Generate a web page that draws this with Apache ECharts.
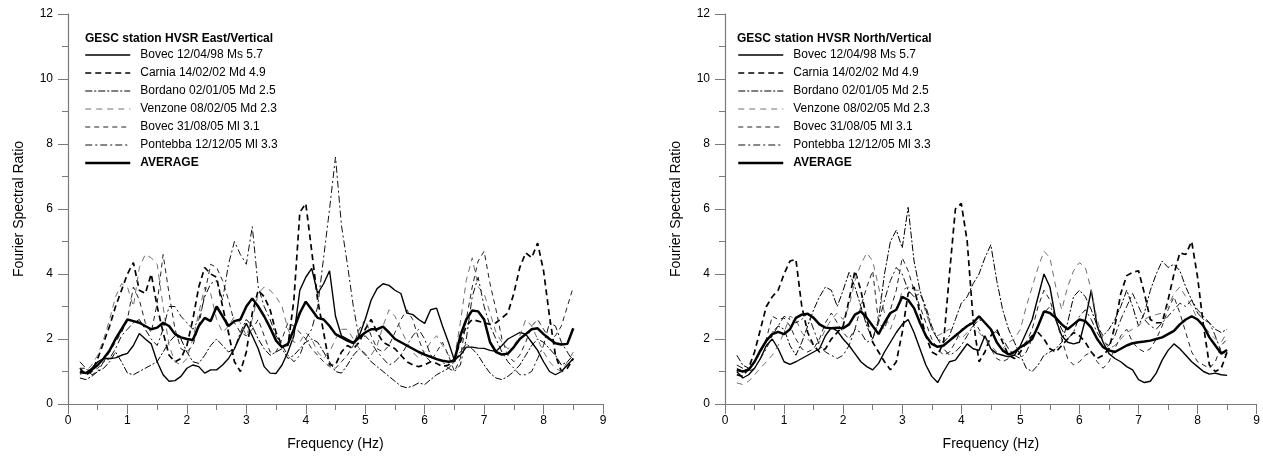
<!DOCTYPE html>
<html>
<head>
<meta charset="utf-8">
<script src="https://cdn.jsdelivr.net/npm/echarts@6/dist/echarts.min.js"></script>
<style>
html,body{margin:0;padding:0;background:#fff;}
#chart{width:1263px;height:460px;}
</style>
</head>
<body>
<div id="chart"></div>
<script>
// Frequencies (Hz)
const freqs = [0.2,0.3,0.4,0.5,0.6,0.7,0.8,0.9,1.0,1.1,
1.2,1.3,1.4,1.5,1.6,1.7,1.8,1.9,2.0,2.1,
2.2,2.3,2.4,2.5,2.6,2.7,2.8,2.9,3.0,3.1,
3.2,3.3,3.4,3.5,3.6,3.7,3.8,3.9,4.0,4.1,
4.2,4.3,4.4,4.5,4.6,4.7,4.8,4.9,5.0,5.1,
5.2,5.3,5.4,5.5,5.6,5.7,5.8,5.9,6.0,6.1,
6.2,6.3,6.4,6.5,6.6,6.7,6.8,6.9,7.0,7.1,
7.2,7.3,7.4,7.5,7.6,7.7,7.8,7.9,8.0,8.1,
8.2,8.3,8.4,8.5];

const seriesNames = ['Bovec 12/04/98 Ms 5.7','Carnia 14/02/02 Md 4.9','Bordano 02/01/05 Md 2.5','Venzone 08/02/05 Md 2.3','Bovec 31/08/05 Ml 3.1','Pontebba 12/12/05 Ml 3.3','AVERAGE'];
const panelTitles = ['GESC station HVSR East/Vertical','GESC station HVSR North/Vertical'];
const xTicks = [0,1,2,3,4,5,6,7,8,9];
const yTicks = [0,2,4,6,8,10,12];

// ---- East / Vertical ----
const E_bovec98 = [0.95,0.95,1.1,1.3,1.4,1.4,1.42,1.5,1.56,1.8,
2.17,2.0,1.85,1.3,0.9,0.7,0.72,0.85,1.1,1.2,
1.15,0.95,1.05,1.05,1.2,1.4,1.7,2.1,2.48,2.1,
1.7,1.15,0.95,0.94,1.2,1.6,2.1,3.5,3.9,4.17,
3.4,3.7,4.1,2.7,2.1,2.0,1.9,2.1,2.6,3.2,
3.55,3.7,3.65,3.5,3.4,2.8,2.75,2.6,2.48,2.9,
2.95,2.4,1.9,1.35,1.5,1.75,1.75,1.72,1.71,1.65,
1.62,1.8,2.0,2.1,2.2,2.15,1.9,1.65,1.3,1.0,
0.9,1.0,1.2,1.4];
const E_carnia = [1.1,0.9,1.0,1.4,1.9,2.4,3.0,3.5,4.0,4.35,
3.5,3.4,4.0,3.0,2.2,1.5,1.3,1.4,1.8,2.6,
3.6,4.2,4.0,3.9,3.0,2.2,1.3,1.0,1.6,2.8,
3.5,3.3,2.9,2.2,1.8,1.8,3.2,5.9,6.17,4.7,
3.2,2.2,1.2,1.2,1.6,1.8,1.7,1.9,2.3,2.6,
2.2,1.9,1.8,1.7,1.5,1.3,1.2,1.15,1.2,1.3,
1.25,1.15,1.2,1.4,1.9,2.4,2.6,2.55,2.5,2.45,
2.5,2.65,2.8,3.4,4.2,4.65,4.5,4.95,4.1,2.7,
1.5,1.0,1.1,1.4];
const E_bordano = [0.8,0.75,0.85,1.0,1.1,1.3,1.6,1.3,0.95,0.9,
1.0,1.1,1.2,1.3,1.6,1.9,2.1,2.0,1.6,1.3,
1.25,1.5,1.8,2.0,1.8,1.6,1.7,2.2,2.6,2.4,
2.0,1.7,1.5,1.6,1.7,1.4,1.5,1.7,1.9,2.0,
1.9,1.6,1.3,1.0,0.95,1.2,1.5,1.7,1.55,1.3,
1.15,1.0,0.85,0.7,0.55,0.5,0.55,0.65,0.6,0.75,
0.9,1.0,1.1,1.3,1.6,1.85,1.7,1.5,1.2,0.95,
0.8,0.75,0.85,1.0,1.2,1.5,1.8,2.0,1.9,1.7,
1.5,1.2,1.3,1.5];
const E_venzone = [0.9,1.0,1.2,1.5,2.0,2.6,3.3,3.7,3.6,3.0,
4.2,4.6,4.5,4.3,3.0,1.8,1.3,1.2,1.4,2.0,
2.8,3.6,3.4,2.6,2.2,2.4,2.7,2.5,2.1,2.6,
3.4,3.6,3.5,3.3,3.0,2.3,1.9,1.9,2.2,2.0,
1.6,1.4,1.6,2.0,2.3,2.3,2.0,1.7,1.5,1.5,
1.8,2.4,2.9,2.7,2.3,1.9,1.6,1.4,1.6,1.9,
2.1,1.8,1.5,1.4,2.5,3.8,4.5,3.6,3.4,2.8,
2.2,1.9,1.7,1.8,2.1,2.6,2.4,2.0,1.6,1.3,
1.1,1.0,1.3,1.6];
const E_bovec05 = [1.1,1.1,1.0,1.1,1.3,1.6,1.9,2.2,2.6,3.6,
3.2,2.5,2.2,3.1,4.6,3.4,2.3,1.7,1.6,1.8,
2.4,3.4,4.3,4.2,3.8,3.2,2.5,2.2,2.1,2.3,
2.6,2.1,1.6,1.6,2.0,2.5,2.4,2.2,2.0,1.7,
1.5,1.3,1.15,1.1,1.3,1.5,1.8,2.3,2.6,2.1,
1.7,1.6,1.8,2.2,2.6,2.9,2.6,2.0,1.5,1.3,
1.6,1.9,1.5,1.0,1.4,2.6,3.6,4.4,4.7,3.7,
2.9,2.0,1.5,1.3,1.5,1.9,2.4,2.6,2.3,2.0,
2.1,2.4,3.0,3.6];
const E_pontebba = [1.3,1.1,0.9,1.0,1.3,1.4,1.7,2.1,2.3,2.5,
2.6,2.3,2.0,1.8,2.3,3.0,3.0,2.7,2.5,2.3,
2.6,3.3,3.7,3.8,3.2,4.3,5.0,4.6,4.3,5.46,
3.6,3.0,2.6,2.1,1.8,1.5,1.3,1.5,2.0,2.3,
3.0,4.5,6.0,7.6,5.5,4.3,3.0,2.0,2.1,1.9,
1.6,1.4,1.2,1.3,1.5,1.8,2.1,2.3,2.0,1.5,
1.4,1.3,1.1,1.0,1.2,2.0,3.3,3.9,3.0,2.4,
2.0,1.6,1.3,1.1,0.9,0.9,1.0,1.4,1.8,2.5,
2.4,1.9,1.6,1.3];
const E_avg = [1.0,0.95,1.05,1.2,1.4,1.65,2.0,2.3,2.6,2.55,
2.5,2.4,2.3,2.35,2.5,2.4,2.15,2.05,2.0,1.97,
2.4,2.65,2.55,3.0,2.7,2.4,2.55,2.6,3.0,3.25,
3.0,2.7,2.35,1.95,1.75,1.85,2.3,2.8,3.15,2.9,
2.65,2.6,2.4,2.15,2.05,1.95,1.87,2.05,2.2,2.3,
2.3,2.38,2.2,2.0,1.9,1.8,1.7,1.6,1.52,1.45,
1.38,1.33,1.3,1.32,2.1,2.6,2.88,2.85,2.6,1.9,
1.6,1.52,1.55,1.75,2.0,2.15,2.3,2.33,2.15,2.0,
1.87,1.83,1.85,2.33];

// ---- North / Vertical ----
const N_bovec98 = [1.0,0.8,0.9,1.1,1.4,1.8,2.0,1.7,1.3,1.22,
1.3,1.4,1.5,1.6,1.7,2.1,2.35,2.25,2.0,1.8,
1.55,1.3,1.15,1.05,1.25,1.6,1.9,2.2,2.45,2.6,
2.2,1.7,1.2,0.85,0.66,1.0,1.3,1.35,1.6,1.85,
1.7,1.65,2.1,1.7,1.55,1.5,1.45,1.5,1.8,2.2,
2.6,3.3,4.0,3.6,2.6,2.1,1.9,1.85,1.9,2.6,
3.5,2.4,1.9,1.55,1.4,1.3,1.15,1.05,0.75,0.66,
0.7,0.95,1.35,1.65,1.85,1.7,1.5,1.3,1.15,1.0,
0.92,0.95,0.9,0.88];
const N_carnia = [0.9,0.85,1.1,1.6,2.3,3.0,3.3,3.5,4.0,4.4,
4.45,3.0,2.2,1.8,1.6,1.7,2.0,2.2,2.4,3.2,
4.1,3.5,2.6,1.9,1.6,1.3,1.05,1.3,2.2,3.4,
3.6,2.8,2.1,1.6,1.5,1.9,4.0,6.0,6.17,5.0,
2.6,1.3,1.6,2.1,2.3,1.9,1.5,1.4,1.6,1.9,
2.1,2.2,2.0,1.7,1.6,1.8,2.0,2.2,2.1,1.9,
1.6,1.4,1.5,1.7,2.4,3.4,3.95,4.05,4.1,3.4,
2.6,2.5,2.5,3.2,4.0,4.65,4.6,5.0,3.9,2.4,
1.2,1.0,1.1,1.6];
const N_bordano = [1.5,1.2,1.1,1.3,1.6,1.9,2.2,2.4,2.3,1.8,
1.5,1.9,2.4,2.9,3.3,3.6,3.5,3.0,3.5,4.05,
3.6,3.0,2.4,2.0,2.6,4.0,5.0,5.35,4.8,6.05,
4.4,3.5,2.9,2.3,2.0,1.9,2.1,2.6,3.1,3.3,
3.7,4.0,4.5,4.9,3.8,2.9,2.3,1.9,1.5,1.1,
1.0,1.2,1.5,1.6,1.7,1.9,2.5,3.3,3.5,3.3,
2.9,2.4,2.1,2.3,2.6,3.0,3.5,3.0,2.4,2.8,
3.5,4.0,4.4,4.2,4.3,4.1,3.6,3.2,2.8,2.6,
2.5,2.3,2.2,2.3];
const N_venzone = [0.65,0.6,0.7,0.9,1.1,1.3,1.5,1.8,2.2,2.7,
2.6,2.2,2.0,1.8,1.9,2.3,2.6,2.8,2.6,3.0,
3.8,4.3,4.65,4.4,3.6,2.8,2.3,2.8,3.5,3.6,
3.5,3.5,2.8,2.3,2.1,2.2,2.3,2.2,2.0,2.2,
2.4,2.2,2.0,1.8,1.6,1.7,1.9,2.0,2.3,3.0,
3.6,4.2,4.7,4.5,3.6,2.9,3.6,4.1,4.35,4.2,
3.5,2.6,2.0,1.7,1.8,2.0,2.2,2.3,2.4,2.6,
2.7,2.75,2.8,3.0,3.4,3.6,3.3,3.0,2.6,2.4,
2.2,2.0,1.9,2.2];
const N_bovec05 = [1.1,1.0,1.1,1.3,1.6,2.0,2.7,2.6,2.65,2.4,
2.0,1.7,1.6,1.7,2.0,2.5,2.8,2.5,2.2,2.0,
2.3,3.0,3.6,4.1,2.5,2.3,2.9,3.5,4.5,4.1,
3.5,3.0,2.5,2.0,1.7,1.5,1.6,1.9,2.3,2.4,
2.6,2.3,2.0,1.7,1.4,1.3,1.4,1.6,1.8,1.9,
2.3,3.0,3.5,3.2,2.6,2.0,1.4,1.2,1.3,1.5,
1.6,1.3,1.1,1.3,1.7,2.1,2.3,1.9,1.7,1.6,
1.7,2.0,2.4,2.9,3.3,2.8,2.2,1.6,1.3,1.2,
1.1,1.3,1.8,2.0];
const N_pontebba = [1.2,1.1,1.0,1.1,1.4,1.7,2.1,2.4,2.7,2.6,
2.5,2.6,2.8,2.3,1.8,1.6,1.5,1.4,1.5,1.8,
2.3,2.2,1.9,2.0,2.5,3.2,3.8,4.2,4.0,3.5,
3.3,3.4,3.0,2.4,2.0,1.7,1.5,1.6,1.8,2.1,
2.4,2.6,2.5,2.3,2.2,2.0,1.7,1.5,1.4,1.6,
2.0,2.4,2.8,3.0,2.7,2.3,2.0,2.2,2.7,2.9,
2.6,2.2,1.9,1.8,2.1,2.6,3.0,3.4,3.0,2.6,
2.4,2.3,2.5,2.7,2.9,3.1,3.0,3.2,2.9,2.7,
2.5,2.1,1.6,1.5];
const N_avg = [1.05,1.0,1.05,1.3,1.65,1.95,2.15,2.22,2.15,2.3,
2.65,2.75,2.78,2.65,2.45,2.35,2.33,2.35,2.33,2.45,
2.75,2.85,2.65,2.4,2.15,2.5,2.8,2.9,3.3,3.2,
2.95,2.5,2.1,1.85,1.76,1.8,1.95,2.1,2.25,2.4,
2.5,2.7,2.5,2.3,1.9,1.65,1.52,1.6,1.75,1.85,
2.0,2.4,2.85,2.8,2.65,2.45,2.3,2.45,2.6,2.55,
2.35,2.0,1.75,1.65,1.6,1.7,1.8,1.87,1.9,1.92,
1.95,2.0,2.05,2.15,2.25,2.45,2.6,2.7,2.6,2.4,
2.05,1.8,1.55,1.66];

const eastData = [E_bovec98,E_carnia,E_bordano,E_venzone,E_bovec05,E_pontebba,E_avg];
const northData = [N_bovec98,N_carnia,N_bordano,N_venzone,N_bovec05,N_pontebba,N_avg];

const styles = [
  {color:'#000', width:1.4, type:'solid'},
  {color:'#000', width:1.7, type:[6,4]},
  {color:'#000', width:1.0, type:[7,2,2,2]},
  {color:'#707070', width:1.0, type:[6,5]},
  {color:'#222', width:1.0, type:[5,4]},
  {color:'#111', width:1.0, type:[7,3,2,3]},
  {color:'#000', width:2.5, type:'solid'}
];

const FONT = '"Liberation Sans", Arial, Helvetica, sans-serif';
const axisGray = '#7a7a7a';

function makeSeries(dataSets, idx) {
  return dataSets.map((vals, k) => ({
    name: seriesNames[k],
    type: 'line',
    xAxisIndex: idx, yAxisIndex: idx,
    symbol: 'none',
    color: styles[k].color,
    lineStyle: Object.assign({}, styles[k]),
    data: freqs.map((f, i) => [f, vals[i]]),
    silent: true,
    animation: false,
    z: k === 6 ? 5 : 3
  }));
}

function xAxis(idx) {
  return {
    type: 'value', gridIndex: idx, min: 0, max: 9, interval: 1,
    axisLine: {show: true, lineStyle: {color: axisGray, width: 1.2}},
    axisTick: {show: true, length: 10, lineStyle: {color: axisGray}},
    minorTick: {show: true, splitNumber: 2, length: 6, lineStyle: {color: axisGray}},
    splitLine: {show: false},
    axisLabel: {color: '#000', fontSize: 12, fontFamily: FONT, margin: 11},
    name: 'Frequency (Hz)', nameLocation: 'middle', nameGap: 33,
    nameTextStyle: {color: '#000', fontSize: 14, fontFamily: FONT}
  };
}
function yAxis(idx) {
  return {
    type: 'value', gridIndex: idx, min: 0, max: 12, interval: 2,
    axisLine: {show: true, lineStyle: {color: axisGray, width: 1.2}},
    axisTick: {show: true, length: 10, lineStyle: {color: axisGray}},
    minorTick: {show: true, splitNumber: 2, length: 6, lineStyle: {color: axisGray}},
    splitLine: {show: false},
    axisLabel: {color: '#000', fontSize: 12, fontFamily: FONT, margin: 15},
    name: 'Fourier Spectral Ratio', nameLocation: 'middle', nameGap: 42,
    nameTextStyle: {color: '#000', fontSize: 14, fontFamily: FONT}
  };
}

function legend(left) {
  return {
    left: left, top: 49, orient: 'vertical', padding: 0,
    itemWidth: 45, itemHeight: 13, itemGap: 6,
    selectedMode: false,
    itemStyle: {opacity: 0},
    lineStyle: {width: 'inherit', type: 'inherit', color: 'inherit'},
    textStyle: {fontSize: 12, fontFamily: FONT, color: '#000', padding: [0,0,0,5]},
    data: seriesNames.map(n => n === 'AVERAGE' ? {name: n, textStyle: {fontWeight: 'bold'}} : n)
  };
}

const chart = echarts.init(document.getElementById('chart'), null, {renderer: 'canvas'});
chart.setOption({
  backgroundColor: '#fff',
  animation: false,
  title: [
    {text: panelTitles[0], left: 85, top: 33, textStyle: {fontSize: 12, fontWeight: 'bold', fontFamily: FONT, color: '#000'}, padding: 0},
    {text: panelTitles[1], left: 737, top: 33, textStyle: {fontSize: 12, fontWeight: 'bold', fontFamily: FONT, color: '#000'}, padding: 0}
  ],
  legend: [legend(84), legend(737)],
  grid: [
    {left: 68, right: 660, top: 14, bottom: 56},
    {left: 725, right: 4, top: 14, bottom: 56}
  ],
  xAxis: [xAxis(0), xAxis(1)],
  yAxis: [yAxis(0), yAxis(1)],
  series: makeSeries(eastData, 0).concat(makeSeries(northData, 1))
});
</script>
</body>
</html>
